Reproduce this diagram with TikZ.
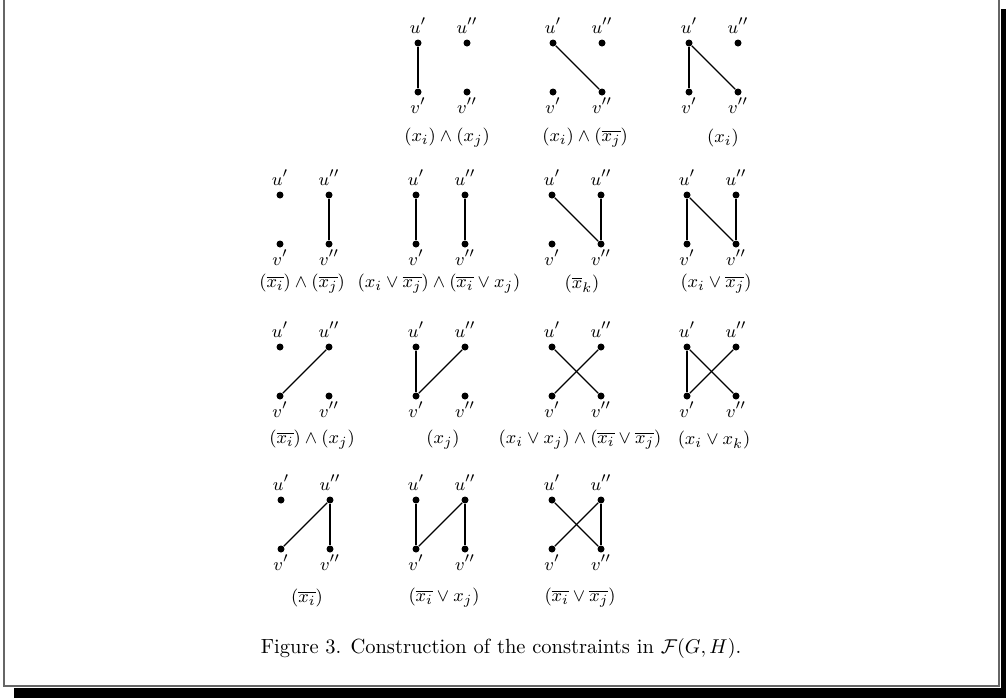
\documentclass[tikz,border=0pt]{standalone}
\usepackage{amsmath}
\begin{document}
\begin{tikzpicture}[x=0.5pt, y=-0.5pt,
    dot/.style={circle, fill=black, minimum size=3.5pt, inner sep=0pt},
    lbl/.style={font=\fontsize{9.5}{11}\selectfont, inner sep=0pt, anchor=base},
    form/.style={font=\fontsize{9.3}{11}\selectfont, inner sep=0pt},
    edge/.style={line width=0.55pt}]
  \useasboundingbox (0,0) rectangle (1006,698);
  % page frame with its shadow
  \fill[black] (1001,9) rectangle (1006,698);
  \fill[black] (14,688) rectangle (1006,698);
  \draw[black!60, line width=1pt] (4,0) -- (4,686) -- (999,686) -- (999,0);

  % one group = u', u'' above v', v''
  \foreach \g/\x/\y in {b1/418/43, c1/553/43, d1/689/43,
                        a2/280/195, b2/416/195, c2/552/195, d2/687/195,
                        a3/280/347, b3/416/347, c3/552/347, d3/687/347,
                        a4/281/500, b4/416/500, c4/552/500} {
    \node[dot] (\g u1) at (\x,\y) {};
    \node[dot] (\g u2) at (\x+49,\y) {};
    \node[dot] (\g v1) at (\x,\y+49) {};
    \node[dot] (\g v2) at (\x+49,\y+49) {};
    \node[lbl] at (\x,\y-10) {$u'$};
    \node[lbl] at (\x+49,\y-10) {$u''$};
    \node[lbl] at (\x,\y+70) {$v'$};
    \node[lbl] at (\x+49,\y+70) {$v''$};
  }

  % row 1
  \draw[edge] (b1u1) -- (b1v1);
  \draw[edge] (c1u1) -- (c1v2);
  \draw[edge] (d1u1) -- (d1v1); \draw[edge] (d1u1) -- (d1v2);
  % row 2
  \draw[edge] (a2u2) -- (a2v2);
  \draw[edge] (b2u1) -- (b2v1); \draw[edge] (b2u2) -- (b2v2);
  \draw[edge] (c2u1) -- (c2v2); \draw[edge] (c2u2) -- (c2v2);
  \draw[edge] (d2u1) -- (d2v1); \draw[edge] (d2u1) -- (d2v2); \draw[edge] (d2u2) -- (d2v2);
  % row 3
  \draw[edge] (a3v1) -- (a3u2);
  \draw[edge] (b3u1) -- (b3v1); \draw[edge] (b3v1) -- (b3u2);
  \draw[edge] (c3u1) -- (c3v2); \draw[edge] (c3v1) -- (c3u2);
  \draw[edge] (d3u1) -- (d3v1); \draw[edge] (d3u1) -- (d3v2); \draw[edge] (d3v1) -- (d3u2);
  % row 4
  \draw[edge] (a4v1) -- (a4u2); \draw[edge] (a4u2) -- (a4v2);
  \draw[edge] (b4u1) -- (b4v1); \draw[edge] (b4v1) -- (b4u2); \draw[edge] (b4u2) -- (b4v2);
  \draw[edge] (c4u1) -- (c4v2); \draw[edge] (c4v1) -- (c4u2); \draw[edge] (c4u2) -- (c4v2);

  % the constraints under each group
  \node[form] (f-b1) at (447,138) {$(x_i)\wedge(x_j)$};
  \node[form] (f-c1) at (585,138) {$(x_i)\wedge(\overline{x_j})$};
  \node[form] (f-d1) at (723,138) {$(x_i)$};
  \node[form] (f-a2) at (302,284) {$(\overline{x_i})\wedge(\overline{x_j})$};
  \node[form] (f-b2) at (439,284) {$(x_i\vee\overline{x_j})\wedge(\overline{x_i}\vee x_j)$};
  \node[form] (f-c2) at (582,284) {$(\overline{x}_k)$};
  \node[form] (f-d2) at (716,284) {$(x_i\vee\overline{x_j})$};
  \node[form] (f-a3) at (312,440) {$(\overline{x_i})\wedge(x_j)$};
  \node[form] (f-b3) at (443,440) {$(x_j)$};
  \node[form] (f-c3) at (580,440) {$(x_i\vee x_j)\wedge(\overline{x_i}\vee\overline{x_j})$};
  \node[form] (f-d3) at (714,440) {$(x_i\vee x_k)$};
  \node[form] (f-a4) at (307,598) {$(\overline{x_i})$};
  \node[form] (f-b4) at (444,598) {$(\overline{x_i}\vee x_j)$};
  \node[form] (f-c4) at (580,598) {$(\overline{x_i}\vee\overline{x_j})$};

  \node[font=\fontsize{10.25}{12}\selectfont, anchor=base] (cap) at (501,653)
    {Figure 3. Construction of the constraints in $\mathcal{F}(G,H)$.};
\end{tikzpicture}
\end{document}
